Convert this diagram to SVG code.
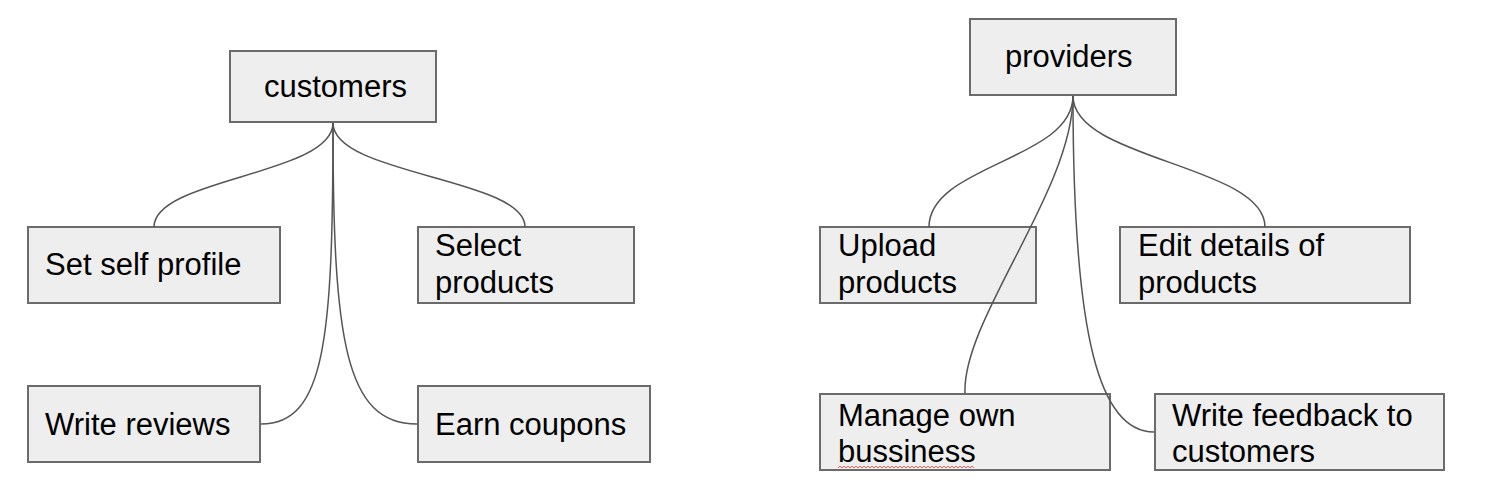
<svg xmlns="http://www.w3.org/2000/svg" width="1494" height="496" viewBox="0 0 1494 496">
<style>
.box{fill:#eeeeee;stroke:#6b6b6b;stroke-width:2}
.t{font-family:"Liberation Sans",Arial,sans-serif;font-size:31px;fill:#000}
.c{fill:none;stroke:#555;stroke-width:1.5}
</style>
<rect width="1494" height="496" fill="#fff"/>
<g id="customers"><rect class="box" x="230" y="51" width="206" height="71"/><text class="t" x="264" y="97">customers</text></g>
<g id="set-self-profile"><rect class="box" x="28" y="227" width="252" height="76"/><text class="t" x="45" y="275">Set self profile</text></g>
<g id="select-products"><rect class="box" x="418" y="227" width="216" height="76"/><text class="t" x="435" y="256">Select</text><text class="t" x="435" y="293">products</text></g>
<g id="write-reviews"><rect class="box" x="28" y="386" width="232" height="76"/><text class="t" x="45" y="435">Write reviews</text></g>
<g id="earn-coupons"><rect class="box" x="418" y="386" width="232" height="76"/><text class="t" x="435" y="435">Earn coupons</text></g>
<g id="providers"><rect class="box" x="970" y="19" width="206" height="76"/><text class="t" x="1005" y="67">providers</text></g>
<g id="upload-products"><rect class="box" x="820" y="227" width="216" height="76"/><text class="t" x="838" y="256">Upload</text><text class="t" x="838" y="293">products</text></g>
<g id="edit-details"><rect class="box" x="1120" y="227" width="290" height="76"/><text class="t" x="1138" y="256">Edit details of</text><text class="t" x="1138" y="293">products</text></g>
<g id="manage-own-bussiness"><rect class="box" x="820" y="394" width="290" height="76"/><text class="t" x="838" y="426">Manage own</text><text class="t" x="838" y="462">bussiness</text>
<path d="M838,468 l2,-2 l2,2 l2,-2 l2,2 l2,-2 l2,2 l2,-2 l2,2 l2,-2 l2,2 l2,-2 l2,2 l2,-2 l2,2 l2,-2 l2,2 l2,-2 l2,2 l2,-2 l2,2 l2,-2 l2,2 l2,-2 l2,2 l2,-2 l2,2 l2,-2 l2,2 l2,-2 l2,2 l2,-2 l2,2 l2,-2 l2,2 l2,-2 l2,2 l2,-2 l2,2 l2,-2 l2,2 l2,-2 l2,2 l2,-2 l2,2 l2,-2 l2,2 l2,-2 l2,2 l2,-2 l2,2 l2,-2 l2,2 l2,-2 l2,2 l2,-2 l2,2 l2,-2 l2,2 l2,-2 l2,2 l2,-2 l2,2 l2,-2 l2,2 l2,-2 l2,2 l2,-2 l2,2" fill="none" stroke="#e06060" stroke-width="1"/></g>
<g id="write-feedback"><rect class="box" x="1155" y="394" width="289" height="76"/><text class="t" x="1172" y="426">Write feedback to</text><text class="t" x="1172" y="462">customers</text></g>
<g id="connectors">
<path class="c" d="M333,123 C333,175 154,178 154,227"/>
<path class="c" d="M333,123 C333,175 525,178 525,227"/>
<path class="c" d="M333,123 C333,340 325,424 261,424"/>
<path class="c" d="M333,123 C333,340 345,424 417,424"/>
<path class="c" d="M1073,96 C1073,160 929,165 929,227"/>
<path class="c" d="M1073,96 C1073,160 1265,165 1265,227"/>
<path class="c" d="M1073,96 C1073,190 962,320 965,393"/>
<path class="c" d="M1073,96 C1073,340 1100,432 1154,432"/>
</g>
</svg>
